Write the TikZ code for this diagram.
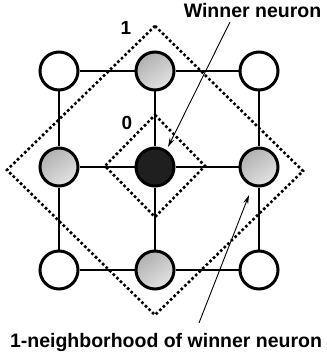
\documentclass[tikz,border=0pt]{standalone}
\usepackage{fontspec}
\setmainfont{Liberation Sans}
\usetikzlibrary{arrows.meta}
\begin{document}
\begin{tikzpicture}[x=1pt,y=-1pt,
  neuron/.style={circle,draw=black,line width=3pt,minimum size=38pt,inner sep=0pt},
  plain/.style={neuron,fill=white},
  near/.style={neuron,top color=gray!62,bottom color=gray!22,shading angle=35},
  winner/.style={neuron,fill=black!88},
  link/.style={line width=1.8pt},
  zone/.style={line width=2.6pt,dash pattern=on 2.6pt off 2.4pt},
  lbl/.style={font=\bfseries\fontsize{19.5}{20}\selectfont,inner sep=0pt,anchor=base},
  num/.style={font=\bfseries\fontsize{19}{20}\selectfont,inner sep=0pt,anchor=base},
  pointer/.style={line width=0.9pt,-{Stealth[length=9pt,width=5pt]}}]
\useasboundingbox (0,0) rectangle (326,358);
% neighbourhoods
\draw[zone] (155,26) -- (303,171) -- (155,315) -- (7,170) -- cycle;
\draw[zone] (155,115) -- (205,166) -- (155,217) -- (105,166) -- cycle;
% neurons
\node[plain]  (n11) at (59,71) {};
\node[near]   (n12) at (155,71) {};
\node[plain]  (n13) at (259,71) {};
\node[near]   (n21) at (59,167) {};
\node[winner] (n22) at (155,167) {};
\node[near]   (n23) at (259,167) {};
\node[plain]  (n31) at (59,270) {};
\node[near]   (n32) at (155,270) {};
\node[plain]  (n33) at (259,270) {};
\draw[link] (n11) -- (n12); \draw[link] (n12) -- (n13);
\draw[link] (n21) -- (n22); \draw[link] (n22) -- (n23);
\draw[link] (n31) -- (n32); \draw[link] (n32) -- (n33);
\draw[link] (n11) -- (n21); \draw[link] (n21) -- (n31);
\draw[link] (n12) -- (n22); \draw[link] (n22) -- (n32);
\draw[link] (n13) -- (n23); \draw[link] (n23) -- (n33);
% labels
\node[num] (one) at (126,35) {1};
\node[num] (zero) at (127,130) {0};
\node[lbl] (win) at (252.5,18) {Winner neuron};
\node[lbl] (hood) at (166,347) {1-neighborhood of winner neuron};
\coordinate (wtip) at (168,147);
\coordinate (htip) at (249,195);
\coordinate (wstart) at (230,22);
\coordinate (hstart) at (199,323);
\draw[pointer] (wstart) -- (wtip);
\draw[pointer] (hstart) -- (htip);
\end{tikzpicture}
\end{document}
